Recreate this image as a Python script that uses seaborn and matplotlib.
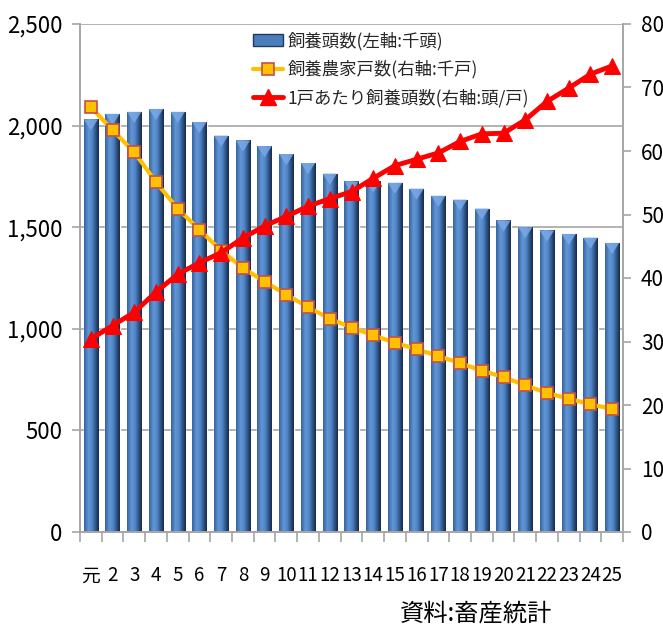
import numpy as np
import pandas as pd
import matplotlib
matplotlib.use('Agg')
import matplotlib.pyplot as plt
import seaborn as sns
from matplotlib.patches import Patch, Polygon
from matplotlib.lines import Line2D
from matplotlib.colors import LinearSegmentedColormap
from matplotlib.ticker import FixedLocator, NullFormatter, FuncFormatter

# ---- data ----
years = ['元', '2', '3', '4', '5', '6', '7', '8', '9', '10', '11', '12', '13',
         '14', '15', '16', '17', '18', '19', '20', '21', '22', '23', '24', '25']
head_count = [2031, 2058, 2068, 2082, 2068, 2018, 1951, 1927, 1899, 1860, 1816,
              1764, 1725, 1726, 1719, 1690, 1655, 1636, 1592, 1533, 1500, 1484,
              1467, 1449, 1423]
farms = [66.9, 63.3, 59.8, 55.1, 50.9, 47.6, 44.3, 41.6, 39.4, 37.4, 35.4, 33.6,
         32.2, 31.0, 29.8, 28.8, 27.7, 26.6, 25.4, 24.4, 23.1, 21.9, 21.0, 20.1, 19.4]
per_farm = [30.4, 32.5, 34.6, 37.8, 40.6, 42.4, 44.0, 46.3, 48.2, 49.7, 51.3, 52.5,
            53.6, 55.7, 57.7, 58.7, 59.7, 61.5, 62.7, 62.8, 64.9, 67.8, 69.9, 72.1, 73.4]
left_ticks = [0, 500, 1000, 1500, 2000, 2500]
right_ticks = [0, 10, 20, 30, 40, 50, 60, 70, 80]
labels = ['飼養頭数(左軸:千頭)', '飼養農家戸数(右軸:千戸)', '1戸あたり飼養頭数(右軸:頭/戸)']
source = '資料:畜産統計'

df = pd.DataFrame({'year': years, 'heads': head_count, 'farms': farms,
                   'per_farm': per_farm})
df['pos'] = np.arange(len(df))

sns.set_theme(style='white')
plt.rcParams['font.family'] = ['Noto Sans CJK JP', 'DejaVu Sans']

fig = plt.figure(figsize=(6.63, 6.33), dpi=100)
ax = fig.add_axes([80 / 663, 1 - 532 / 633, 543 / 663, 508 / 633])

sns.barplot(data=df, x='year', y='heads', color='#4A7EBB', width=0.66,
            saturation=1, ax=ax, zorder=2)

# cylinder-like shading on bars, with a lighter "V" at the top
cmap = LinearSegmentedColormap.from_list(
    'cyl', [(0, '#35649F'), (0.3, '#6296D6'), (0.55, '#5086C8'),
            (0.82, '#2C4E7C'), (1, '#18294A')])
grad = np.linspace(0, 1, 64).reshape(1, -1)
v_depth = 55  # in data units of the left axis
for p in list(ax.patches):
    x0, w, y0, h = p.get_x(), p.get_width(), p.get_y(), p.get_height()
    im = ax.imshow(grad, cmap=cmap, extent=[x0, x0 + w, y0, y0 + h],
                   aspect='auto', zorder=2.1, interpolation='bilinear')
    im.set_clip_path(p)
    top = y0 + h
    tri = Polygon([[x0, top], [x0 + w, top], [x0 + w / 2, top - v_depth]],
                  closed=True, facecolor='#79A8E6', edgecolor='none',
                  alpha=0.85, zorder=2.2)
    ax.add_patch(tri)

ax.set_xlim(-0.5, len(years) - 0.5)
ax.set_ylim(0, 2500)
ax.set_yticks(left_ticks)
ax.yaxis.set_major_formatter(FuncFormatter(lambda v, _: f'{int(v):,}'))
ax.set_axisbelow(True)
ax.grid(axis='y', color='#A6A6A6', linewidth=1.2)
ax.grid(axis='x', visible=False)
ax.set_xlabel('')
ax.set_ylabel('')
for s in ['left', 'right', 'bottom']:
    ax.spines[s].set_color('#A6A6A6')
    ax.spines[s].set_linewidth(1.2)
ax.spines['top'].set_visible(False)
ax.tick_params(axis='y', left=True, length=5.5, width=1.2, color='#A6A6A6',
               pad=7, labelsize=16, labelcolor='black')
ax.xaxis.set_minor_locator(FixedLocator(np.arange(-0.5, len(years), 1.0)))
ax.xaxis.set_minor_formatter(NullFormatter())
ax.tick_params(axis='x', which='minor', bottom=True, length=7.5, width=1.2,
               color='#A6A6A6')
ax.tick_params(axis='x', which='major', bottom=True, length=0, pad=24,
               labelsize=13.5, labelcolor='black')

ax2 = ax.twinx()
sns.lineplot(data=df, x='pos', y='farms', ax=ax2, color='#FFC000', linewidth=3,
             marker='s', markersize=9, markerfacecolor='#FFC000',
             markeredgecolor='#C0504D', markeredgewidth=1.2, zorder=4)
sns.lineplot(data=df, x='pos', y='per_farm', ax=ax2, color='#FF0000', linewidth=3.5,
             marker='^', markersize=11, markerfacecolor='#FF0000',
             markeredgecolor='#FF0000', zorder=5)
ax2.set_xlim(-0.5, len(years) - 0.5)
ax2.set_ylim(0, 80)
ax2.set_yticks(right_ticks)
ax2.set_xlabel('')
ax2.set_ylabel('')
ax2.grid(False)
for s in ['left', 'right', 'bottom']:
    ax2.spines[s].set_color('#A6A6A6')
    ax2.spines[s].set_linewidth(1.2)
ax2.spines['top'].set_visible(False)
ax2.tick_params(axis='y', right=True, length=6, width=1.2, color='#A6A6A6',
                pad=7, labelsize=15, labelcolor='black')

handles = [
    Patch(facecolor='#4A7EBB', edgecolor='#1F3A60', linewidth=1),
    Line2D([], [], color='#FFC000', linewidth=3, marker='s', markersize=9,
           markerfacecolor='#FFC000', markeredgecolor='#C0504D', markeredgewidth=1.2),
    Line2D([], [], color='#FF0000', linewidth=3.5, marker='^', markersize=11,
           markerfacecolor='#FF0000', markeredgecolor='#FF0000'),
]
leg = ax2.legend(handles, labels, loc='upper left', bbox_to_anchor=(0.318, 0.985),
                 frameon=False, fontsize=12.5, handlelength=1.75, handletextpad=0.25,
                 labelspacing=0.58, borderpad=0, borderaxespad=0)
leg.set_zorder(10)

fig.text(552 / 663, 1 - 614 / 633, source, ha='right', va='center', fontsize=17.5,
         color='black')

fig.savefig('out.png', dpi=100)
